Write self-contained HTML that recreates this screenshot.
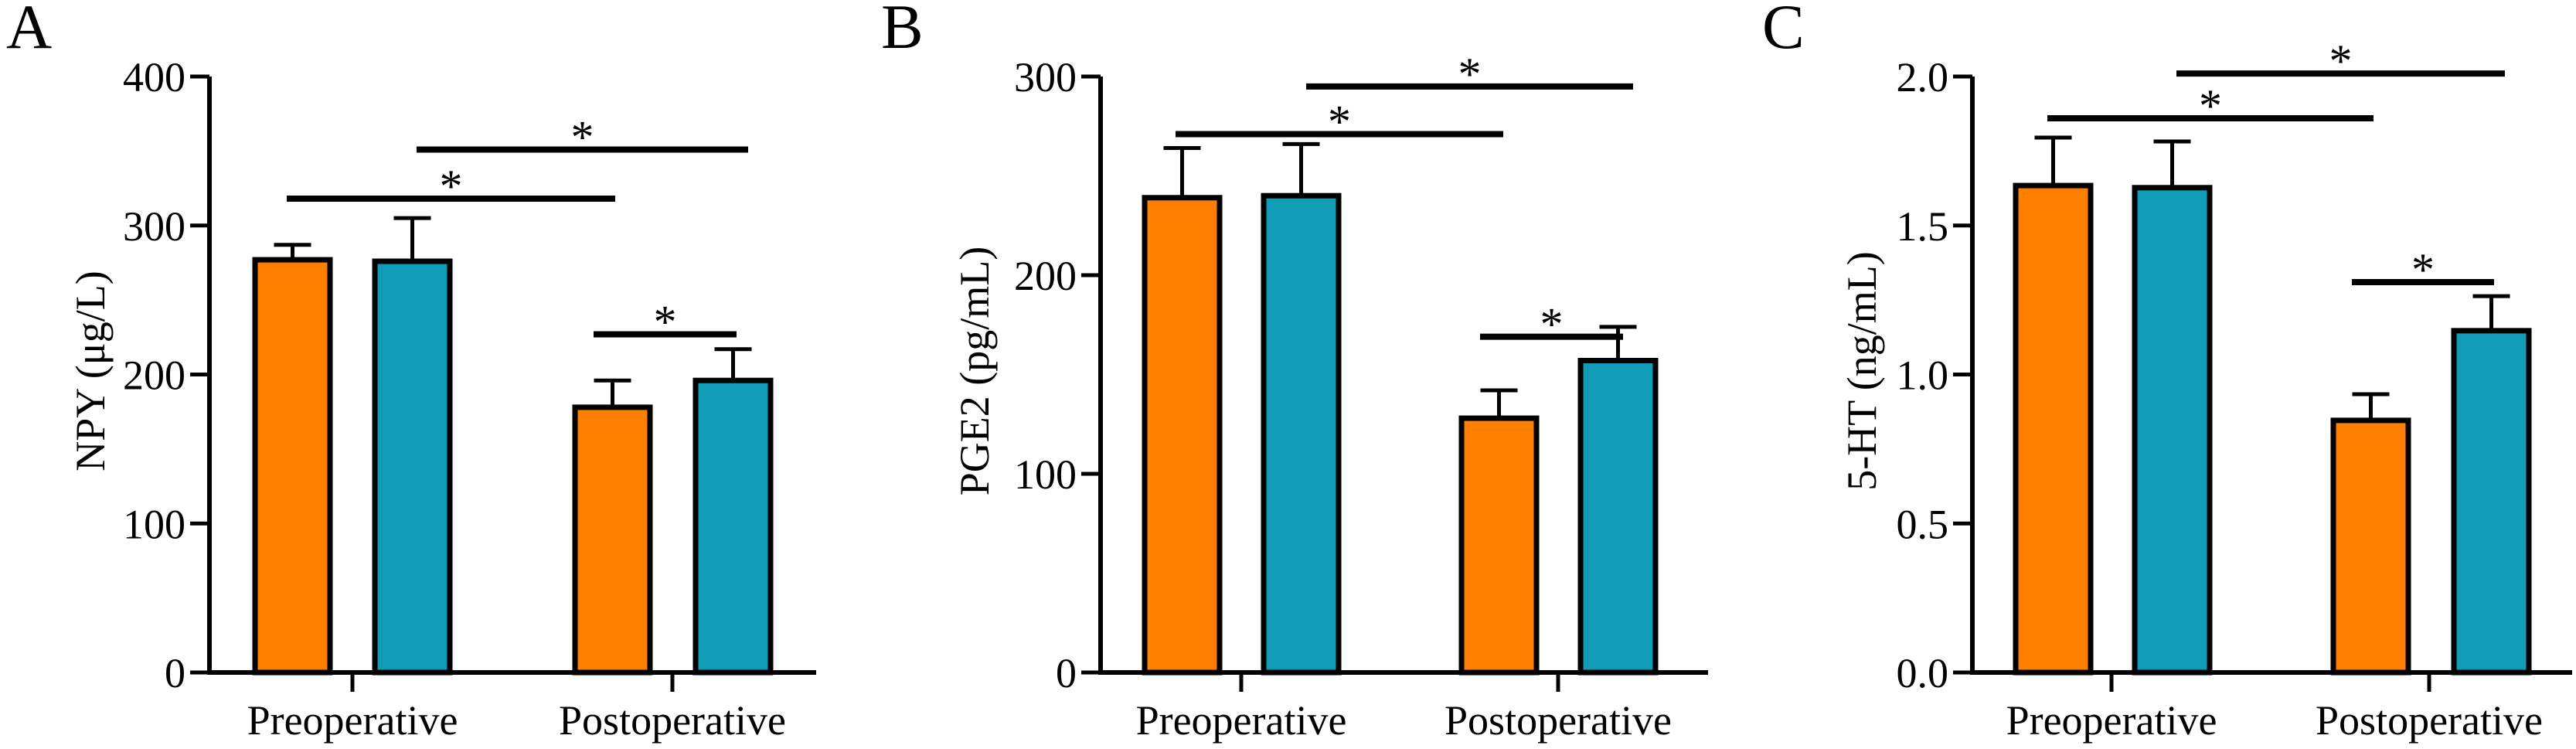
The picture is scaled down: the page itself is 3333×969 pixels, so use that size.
<!DOCTYPE html>
<html><head><meta charset="utf-8"><style>
html,body{margin:0;padding:0;background:#fff;}
svg{display:block;font-family:"Liberation Serif",serif;}
</style></head><body>
<svg id="chart" width="3333" height="969" viewBox="0 0 3333 969" xmlns="http://www.w3.org/2000/svg"></svg>
<script>
const categories = ["Preoperative","Postoperative"];
const panelLetters = ["A","B","C"];
const yTitles = ["NPY (μg/L)","PGE2 (pg/mL)","5-HT (ng/mL)"];
const yMax = [400,300,2.0];
const yTicksA = ["0","100","200","300","400"];
const yTicksB = ["0","100","200","300"];
const yTicksC = ["0.0","0.5","1.0","1.5","2.0"];
const tickValsA = [0,100,200,300,400];
const tickValsB = [0,100,200,300];
const tickValsC = [0,0.5,1,1.5,2];
// values: [pre-orange, pre-teal, post-orange, post-teal]
const meansA = [277,276,178,196];
const errsA = [287,305,196,217];
const meansB = [239,240,128,157];
const errsB = [264,266,142,174];
const meansC = [1.634,1.627,0.846,1.147];
const errsC = [1.795,1.782,0.934,1.263];
const sigLevelsA = [318,351,227];
const sigLevelsB = [271,295,169];
const sigLevelsC = [1.86,2.01,1.31];

const svg = document.getElementById('chart');
const NS = "http://www.w3.org/2000/svg";
function mk(tag, attrs, parent){
  const e = document.createElementNS(NS, tag);
  for (const k in attrs) e.setAttribute(k, attrs[k]);
  (parent||svg).appendChild(e);
  return e;
}
const layouts = [
  {ax:271, end:1056, barL:[330,485,744,900], cat:[456,870], tickLX:240, titleX:118, letterX:8},
  {ax:1424, end:2210, barL:[1481,1635,1891,2045], cat:[1606,2016], tickLX:1393, titleX:1262, letterX:1140},
  {ax:2552, end:3328, barL:[2608,2762,3019,3175], cat:[2732,3143], tickLX:2521, titleX:2410, letterX:2280}
];
const sigXs = [
  [[371,796],[539,968],[768,953]],
  [[1521,1945],[1690,2113],[1915,2100]],
  [[2649,3071],[2816,3241],[3043,3227]]
];
const allMeans=[meansA,meansB,meansC], allErrs=[errsA,errsB,errsC], allSig=[sigLevelsA,sigLevelsB,sigLevelsC];
const allTickL=[yTicksA,yTicksB,yTicksC], allTickV=[tickValsA,tickValsB,tickValsC];
const Y0=870, Y1=99, BW=97;
const colors=["#FF8000","#109CB6","#FF8000","#109CB6"];

layouts.forEach((L,p)=>{
  const g = mk('g',{});
  
  
  const y = v => Y0 - v/yMax[p]*(Y0-Y1);
  const letter = mk('text',{x:L.letterX,y:62,'font-size':82},g);
  letter.textContent = panelLetters[p];
  
  
  allMeans[p].forEach((m,i)=>{
    const x=L.barL[i], cx=x+BW/2, e=allErrs[p][i];
    const eb = mk('path',{d:`M${cx} ${y(m)} V${y(e)} M${cx-24} ${y(e)} H${cx+24}`,stroke:'#000','stroke-width':5,fill:'none'},g);
    
    
    const r = mk('rect',{x:x,y:y(m),width:BW,height:Y0-y(m),fill:colors[i],stroke:'#000','stroke-width':7},g);
    
    
  });
  const ya = mk('path',{d:`M${L.ax} ${Y1} V${Y0}`,stroke:'#000','stroke-width':6,fill:'none'},g);
  
  
  const xa = mk('path',{d:`M${L.ax-3} ${Y0} H${L.end}`,stroke:'#000','stroke-width':6,fill:'none'},g);
  
  
  allTickV[p].forEach((v,i)=>{
    mk('path',{d:`M${L.ax-25} ${y(v)} H${L.ax}`,stroke:'#000','stroke-width':5},g);
    const t = mk('text',{x:L.tickLX,y:y(v)+19,'font-size':54,'text-anchor':'end'},g);
    t.textContent = allTickL[p][i];
    
    
  });
  categories.forEach((c,i)=>{
    mk('path',{d:`M${L.cat[i]} ${Y0} V${Y0+25}`,stroke:'#000','stroke-width':5},g);
    const t = mk('text',{x:L.cat[i],y:950,'font-size':54,'text-anchor':'middle'},g);
    t.textContent = c;
    
    
  });
  const tt = mk('text',{x:0,y:0,'font-size':54,'text-anchor':'middle',transform:`translate(${L.titleX+17},${480}) rotate(-90)`},g);
  tt.textContent = yTitles[p];
  
  
  allSig[p].forEach((lv,k)=>{
    const [x1,x2] = sigXs[p][k], yy=y(lv);
    const l = mk('path',{d:`M${x1} ${yy} H${x2}`,stroke:'#000','stroke-width':8},g);
    
    
    const s = mk('text',{x:(x1+x2)/2,y:yy+4,'font-size':60,'text-anchor':'middle'},g);
    s.textContent='*';
    
    
  });
});
</script>
</body></html>
